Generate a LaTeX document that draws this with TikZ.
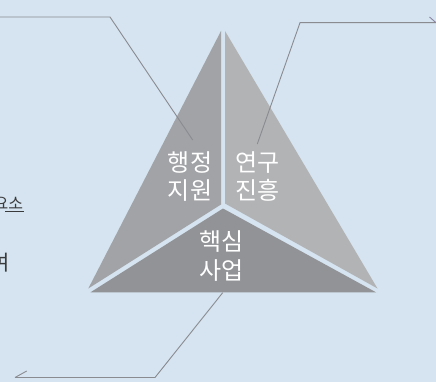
\documentclass[tikz,border=0pt]{standalone}
\usepackage{fontspec}
\newfontfamily\kr{Noto Sans CJK KR}
\definecolor{bg}{RGB}{213,228,240}
\definecolor{pieceL}{RGB}{162,163,167}
\definecolor{pieceR}{RGB}{178,179,181}
\definecolor{pieceB}{RGB}{146,147,151}
\definecolor{leader}{RGB}{138,139,144}
\definecolor{tick}{RGB}{140,132,160}
\definecolor{side}{RGB}{58,58,60}
\begin{document}
\begin{tikzpicture}[x=1pt,y=-1pt,
  label/.style={font=\kr\fontsize{24}{28.5}\selectfont, text=white, align=center, inner sep=0pt},
  sidetext/.style={font=\kr\fontsize{16}{20}\selectfont, text=side, inner sep=0pt},
  sidebig/.style={font=\kr\fontsize{21}{24}\selectfont, text=side, inner sep=0pt},
  leaderline/.style={draw=leader, line width=0.9pt},
  tickline/.style={draw=tick, line width=0.9pt}]
\fill[bg] (0,0) rectangle (436,382);
\useasboundingbox (0,0) rectangle (436,382);
\clip (0,0) rectangle (436,382);
% pieces
\fill[pieceL] (221,31) -- (88.3,288.5) -- (221,204.5) -- cycle;
\fill[pieceR] (225,31) -- (377.5,288.5) -- (225,203.5) -- cycle;
\fill[pieceB] (223,208.5) -- (90.5,292.3) -- (376,292.3) -- cycle;
% labels
\node[label] (admin) at (190,176.7) {행정\\지원};
\node[label] (research) at (257.5,176.7) {연구\\진흥};
\node[label] (core) at (221.7,256) {핵심\\사업};
% side fragments (cut by the left edge, as in the reference)
\node[sidetext, anchor=east] (frag1) at (23.3,203.3) {요소};
\draw[side, line width=0.8pt] (5,211) -- (23.5,211);
\node[sidebig, anchor=west] (frag2) at (-10,263) {여};
% leader coordinates
\coordinate (l1s) at (0,17);
\coordinate (l1k) at (110,17);
\coordinate (l1e) at (192.7,140);
\coordinate (l2s) at (257.3,144);
\coordinate (l2k) at (300,22.7);
\coordinate (l2e) at (436,22.7);
\coordinate (l2t) at (429.5,17);
\coordinate (l3s) at (222.7,292.7);
\coordinate (l3k) at (155,377.5);
\coordinate (l3e) at (15,377.5);
\coordinate (l3t) at (26.7,371);
\draw[leaderline] (l1s) -- (l1k) -- (l1e);
\draw[leaderline] (l2s) -- (l2k) -- (l2e);
\draw[tickline] (l2t) -- (l2e);
\draw[leaderline] (l3s) -- (l3k) -- (l3e);
\draw[leaderline] (l3e) -- (l3t);
\end{tikzpicture}
\end{document}
